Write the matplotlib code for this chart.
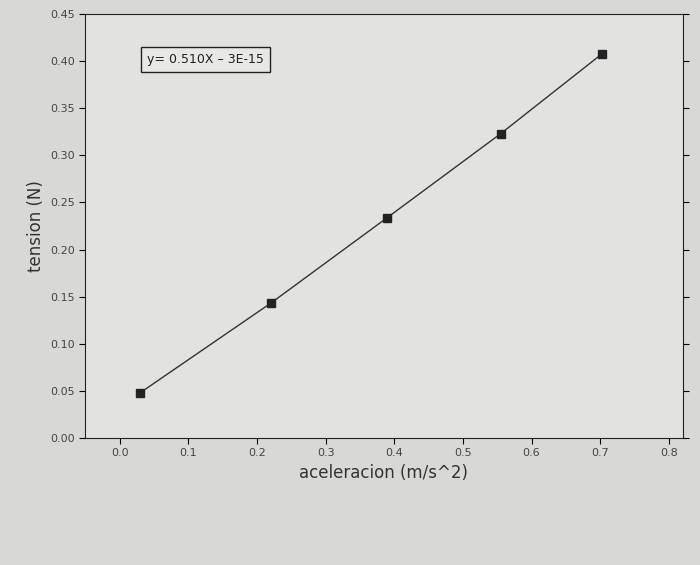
import matplotlib
matplotlib.use("Agg")
import matplotlib.pyplot as plt
import numpy as np

accel = [0.03, 0.22, 0.39, 0.555, 0.703]
tension = [0.048, 0.143, 0.234, 0.323, 0.408]
xticks = [0.0, 0.1, 0.2, 0.3, 0.4, 0.5, 0.6, 0.7, 0.8]
yticks = [0.00, 0.05, 0.10, 0.15, 0.20, 0.25, 0.30, 0.35, 0.40, 0.45]

fig = plt.figure(figsize=(7, 5.65), dpi=100, facecolor="#d8d8d6")
ax = fig.add_axes([0.122, 0.225, 0.853, 0.75])
ax.set_facecolor("#e2e2e0")
ax.plot(accel, tension, color="#333333", lw=1)
ax.plot(accel, tension, "s", color="#222222", ms=6, ls="none")
ax.set_xlim(-0.05, 0.82)
ax.set_ylim(0, 0.45)
ax.set_xticks(xticks)
ax.set_xticklabels([f"{v:.1f}" for v in xticks], fontsize=8, color="#444444")
ax.set_yticks(yticks)
ax.set_yticklabels([f"{v:.2f}" for v in yticks], fontsize=8, color="#444444")
ax.tick_params(direction="out", length=4, top=False, right=True)
ax.set_xlabel("aceleracion (m/s^2)", fontsize=12, color="#333333")
ax.set_ylabel("tension (N)", fontsize=12, color="#333333")
ax.text(0.04, 0.398, "y= 0.510X – 3E-15", fontsize=9, color="#222222",
        bbox=dict(boxstyle="square,pad=0.5", fc="#e8e8e6", ec="#222222"))
for s in ax.spines.values():
    s.set_color("#222222")
fig.savefig("out.png", dpi=100, facecolor=fig.get_facecolor())
